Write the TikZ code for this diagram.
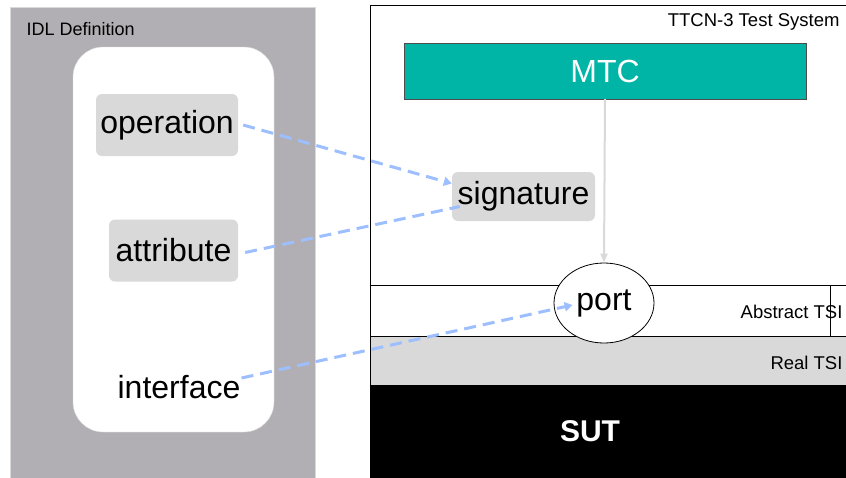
\documentclass[tikz,border=0pt]{standalone}
\usepackage{fontspec}
\setmainfont{Liberation Sans}
\usetikzlibrary{arrows.meta,shapes.geometric}
\definecolor{idlgray}{HTML}{B1AFB3}
\definecolor{boxgray}{HTML}{D9D9D9}
\definecolor{mtcteal}{HTML}{00B5A5}
\definecolor{linkblue}{HTML}{9DBEFF}
\begin{document}
\begin{tikzpicture}[x=1pt,y=-1pt,
  big/.style={font=\fontsize{32}{36}\selectfont},
  small/.style={font=\fontsize{18.5}{22}\selectfont},
  idlbox/.style={big,fill=boxgray,rounded corners=6pt,minimum height=62pt,inner sep=0pt},
  link/.style={draw=linkblue,line width=3pt,dash pattern=on 12pt off 7pt},
  linktip/.style={-{Triangle[length=8pt,width=9pt]}}]
\clip (0,0) rectangle (846,477);
% IDL side
\draw[fill=idlgray,draw=boxgray] (10,7) rectangle (315,490);
\node[font=\fontsize{18}{22}\selectfont,anchor=base west] (idl) at (23,35) {IDL Definition};
\draw[fill=white,draw=boxgray,rounded corners=30pt] (73,47) rectangle (274,432);
\node[idlbox,minimum width=142pt] (operation) at (167,125) {operation};
\node[idlbox,minimum width=129pt] (attribute) at (173.5,250.5) {attribute};
\node[big,inner sep=0pt] (interface) at (179,387) {interface};
% test system
\draw[line width=0.8pt] (370,5) rectangle (870,490);
\node[small,anchor=base east] (ttcn) at (843,26) {TTCN-3 Test System};
\node[big,fill=mtcteal,draw=black!70,text=white,minimum width=402pt,minimum height=56pt] (mtc) at (605,71) {MTC};
\node[idlbox,minimum width=143pt,minimum height=49pt] (signature) at (523.5,196.5) {signature};
\draw[line width=0.8pt,fill=white] (370,285) rectangle (870,336);
\draw[line width=0.8pt] (830,285) -- (830,336);
\draw[line width=0.8pt,fill=boxgray] (370,336) rectangle (870,385);
\fill[black] (370,385) rectangle (870,490);
\node[small,anchor=base east] (abstsi) at (846,318) {Abstract TSI};
\node[small,anchor=base east] (realtsi) at (846,369) {Real TSI};
\node[font=\fontsize{30}{34}\selectfont\bfseries,text=white] (sut) at (590,431) {SUT};
\node[big,ellipse,draw=black,line width=0.8pt,fill=white,minimum width=100pt,minimum height=80pt,inner sep=0pt] (port) at (604,303) {port};
\draw[draw=boxgray,line width=2pt,-{Triangle[length=9pt,width=7pt]}] (mtc.south) -- (port.north);
% mappings
\draw[link,linktip] ([xshift=5pt]operation.east) -- ([yshift=13pt]signature.west);
\draw[link] ([xshift=7pt,yshift=-2pt]attribute.east) -- ([xshift=8pt,yshift=-10pt]signature.west);
\draw[link,linktip] ([xshift=1pt,yshift=9pt]interface.east) -- ([xshift=19pt,yshift=-2pt]port.west);
\end{tikzpicture}
\end{document}
